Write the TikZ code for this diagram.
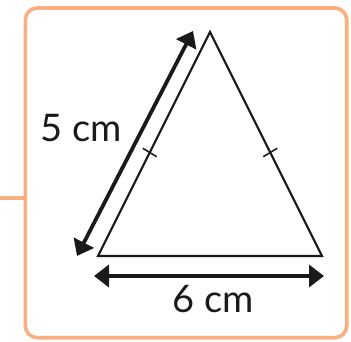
\documentclass[tikz,border=0pt]{standalone}
\usepackage{fontspec}
\setmainfont{Lato}
\usetikzlibrary{arrows.meta,calc}
\definecolor{boxorange}{RGB}{249,175,130}
\definecolor{ink}{RGB}{26,26,26}
\tikzset{
  frame/.style={draw=boxorange,line width=3.6pt,rounded corners=12pt},
  side/.style={draw=ink,line width=2.2pt,line join=miter},
  tickmark/.style={draw=ink,line width=1.6pt},
  dimarrow/.style={draw=ink,line width=3.8pt,{Triangle[length=15pt,width=22pt]}-{Triangle[length=15pt,width=22pt]}},
  lbl/.style={text=ink,font=\fontsize{38}{40}\selectfont,inner sep=0pt,anchor=base}
}
\begin{document}
\begin{tikzpicture}[x=1pt,y=-1pt]
\useasboundingbox (0,0) rectangle (351,342);
% frame and lead-in line
\coordinate (lead) at (0,198);
\node[minimum width=321.4pt,minimum height=329.7pt,inner sep=0pt,outer sep=0pt,frame] (box) at (186,172.85) {};
\draw[draw=boxorange,line width=3.8pt] (lead) -- (box.west |- lead);
% triangle
\coordinate (A) at (210,32);
\coordinate (B) at (98,256);
\coordinate (C) at (322,256);
\draw[side] (A) -- (B) -- (C) -- cycle;
% tick marks
\coordinate (mAB) at ($(A)!0.538!(B)$);
\coordinate (mAC) at ($(A)!0.538!(C)$);
\draw[tickmark] ($(mAB)+(7.0,4.2)$) -- ($(mAB)+(-7.0,-4.2)$);
\draw[tickmark] ($(mAC)+(-7.0,4.2)$) -- ($(mAC)+(7.0,-4.2)$);
% dimension arrows
\coordinate (l1) at (77,256);
\coordinate (l2) at (193,31);
\draw[dimarrow] (l1) -- (l2);
\coordinate (b1) at (94,276);
\coordinate (b2) at (324,276);
\draw[dimarrow] (b1) -- (b2);
% labels
\node[lbl] (five) at (81.5,141.7) {5 cm};
\node[lbl] (six) at (213,312) {6 cm};
\end{tikzpicture}
\end{document}
